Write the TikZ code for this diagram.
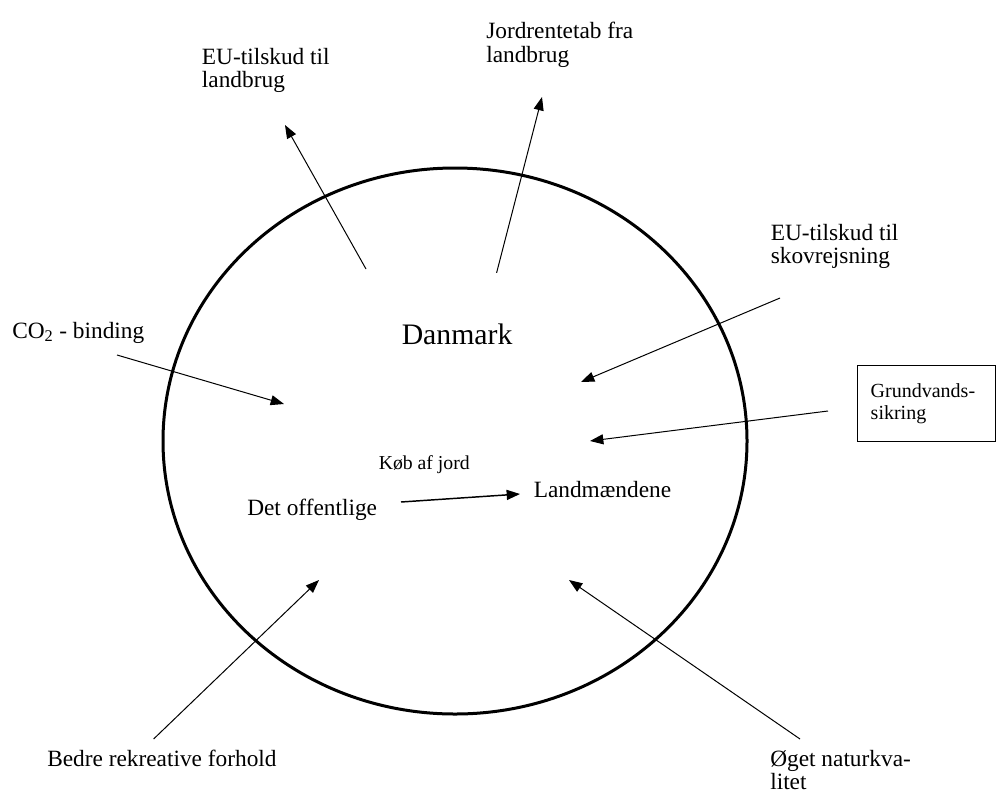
\documentclass[tikz,border=0pt]{standalone}
\usepackage{fontspec}
\setmainfont{Liberation Serif}
\usetikzlibrary{arrows.meta}
\begin{document}
\begin{tikzpicture}[x=0.75pt,y=-0.75pt,
  lbl/.style={font=\fontsize{17.5}{17.6}\selectfont, align=left, inner sep=0pt, anchor=base west},
  big/.style={font=\fontsize{22.3}{25.6}\selectfont, inner sep=0pt, anchor=base west},
  small/.style={font=\fontsize{14.8}{17}\selectfont, inner sep=0pt, anchor=base west},
  boxst/.style={draw, line width=1.1pt, font=\fontsize{15}{17}\selectfont, align=left,
    anchor=north west, minimum width=103.5pt, minimum height=57pt, text width=84pt,
    inner xsep=9.75pt, inner ysep=0pt},
  arr/.style={line width=0.75pt, -{Triangle[length=10pt,width=7.5pt]}},
  rim/.style={line width=2.25pt}]
\useasboundingbox (0,0) rectangle (998,796);
\fill[white] (0,0) rectangle (998,796);

% the circle (Danmark)
\draw[rim] (455,441) ellipse [x radius=219pt, y radius=204.75pt];

% labels (multi-line labels are placed by the baseline of their last line)
\node[lbl] (eul) at (201.7,87.5) {EU-tilskud til\\landbrug};
\node[lbl] (jrd) at (486,62) {Jordrentetab fra\\landbrug};
\node[lbl] (skv) at (770.5,263.5) {EU-tilskud til\\skovrejsning};
\node[lbl] (co2) at (12,338) {CO\textsubscript{2} - binding};
\node[big] (dan) at (401.5,344) {Danmark};
\node[small] (kob) at (378.5,469) {Køb af jord};
\node[lbl] (det) at (247,515) {Det offentlige};
\node[lbl] (lan) at (533.5,497.5) {Landmændene};
\node[lbl] (bed) at (47,766) {Bedre rekreative forhold};
\node[lbl] (oget) at (770,789.5) {Øget naturkva-\\litet};
\node[boxst] (gv) at (857,365) {Grundvands-\\sikring};

% arrow end points
\coordinate (a1s) at (366,269);   \coordinate (a1e) at (285,125);
\coordinate (a2s) at (496.6,272.8); \coordinate (a2e) at (542,97);
\coordinate (a3s) at (780,298);   \coordinate (a3e) at (581,382);
\coordinate (a4s) at (828,411);   \coordinate (a4e) at (590,441);
\coordinate (a5s) at (117,355);   \coordinate (a5e) at (284,404);
\coordinate (a6s) at (401,502);   \coordinate (a6e) at (520,494);
\coordinate (a7s) at (153.6,739); \coordinate (a7e) at (319,580);
\coordinate (a8s) at (800,739);   \coordinate (a8e) at (569,580);

\draw[arr] (a1s) -- (a1e);
\draw[arr] (a2s) -- (a2e);
\draw[arr] (a3s) -- (a3e);
\draw[arr] (a4s) -- (a4e);
\draw[arr] (a5s) -- (a5e);
\draw[arr, line width=1.1pt] (a6s) -- (a6e);
\draw[arr] (a7s) -- (a7e);
\draw[arr] (a8s) -- (a8e);
\end{tikzpicture}
\end{document}
